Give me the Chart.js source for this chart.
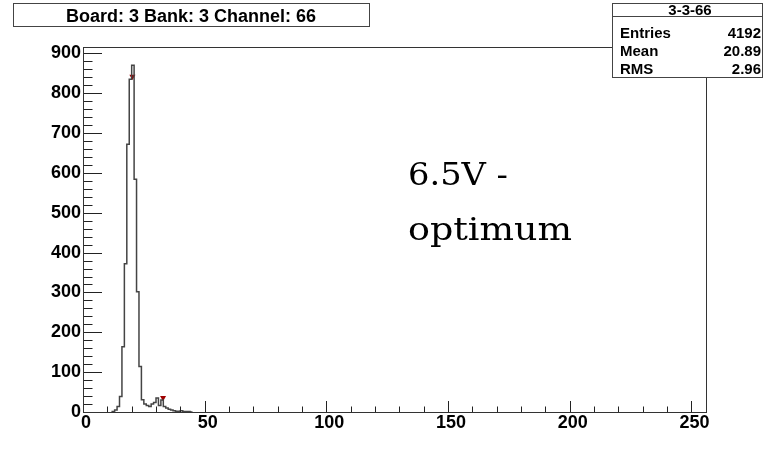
<!DOCTYPE html>
<html><head><meta charset="utf-8">
<script src="https://cdn.jsdelivr.net/npm/chart.js@4.4.0/dist/chart.umd.min.js"></script>
<style>html,body{margin:0;padding:0;background:#fff}#wrap{width:765px;height:456px}</style>
</head><body><div id="wrap"><canvas id="c" width="765" height="456"></canvas></div>
<script>
// ---- data ----
const binLow = [12,13,14,15,16,17,18,19,20,21,22,23,24,25,26,27,28,29,30,31,32,33,34,35,36,37,38,39,40,41,42,43,44,45];
const counts = [0,1,5,14,39,164,372,672,835,870,584,302,114,31,20,16,14,20,24,35,16,30,14,10,7,5,3,2,2,3,1,1,1,0];
const markerX = [20.3, 32.9];
const markerY = [842, 36];
const xTicks = [0,50,100,150,200,250];
const yTicks = [0,100,200,300,400,500,600,700,800,900];
const xRange = [0, 256];
const yRange = [0, 916];
const titleText = 'Board: 3 Bank: 3 Channel: 66';
const statsTitle = '3-3-66';
const statsLabels = ['Entries','Mean','RMS'];
const statsValues = ['4192','20.89','2.96'];
const noteLines = ['6.5V -','optimum'];

const xMinorStep = 10, xMajorStep = 50, yMinorStep = 20, yMajorStep = 100;

const rootPlugin = {
  id: 'rootStyle',
  afterDraw(chart) {
    const {ctx, chartArea: a, scales: {x, y}} = chart;
    ctx.save();
    ctx.strokeStyle = '#222';
    ctx.lineWidth = 1;
    ctx.beginPath();
    for (let v = xRange[0]; v <= xRange[1]; v += xMinorStep) {
      const px = Math.round(x.getPixelForValue(v)) + 0.5;
      const len = (v % xMajorStep === 0) ? 11 : 5.5;
      ctx.moveTo(px, a.bottom); ctx.lineTo(px, a.bottom - len);
    }
    for (let v = yRange[0]; v <= yRange[1]; v += yMinorStep) {
      const py = Math.round(y.getPixelForValue(v)) + 0.5;
      const len = (v % yMajorStep === 0) ? 19 : 9.5;
      ctx.moveTo(a.left, py); ctx.lineTo(a.left + len, py);
    }
    ctx.stroke();
    // frame
    ctx.strokeStyle = '#333';
    ctx.strokeRect(Math.round(a.left) + 0.5, Math.round(a.top) + 0.5,
                   Math.round(a.right - a.left), Math.round(a.bottom - a.top));
    // title box
    ctx.fillStyle = '#fff';
    ctx.fillRect(13, 3, 356, 23);
    ctx.strokeStyle = '#444';
    ctx.strokeRect(13.5, 3.5, 356, 23);
    ctx.fillStyle = '#000';
    ctx.font = 'bold 18px "Liberation Sans", Arial, sans-serif';
    ctx.textAlign = 'center';
    ctx.textBaseline = 'alphabetic';
    ctx.fillText(titleText, 191, 21.5);
    // stats box
    ctx.fillStyle = '#fff';
    ctx.fillRect(612, 3, 151, 74);
    ctx.strokeStyle = '#444';
    ctx.strokeRect(612.5, 3.5, 150, 74);
    ctx.beginPath(); ctx.moveTo(612, 16.5); ctx.lineTo(763, 16.5); ctx.stroke();
    ctx.fillStyle = '#000';
    ctx.font = 'bold 15px "Liberation Sans", Arial, sans-serif';
    ctx.textAlign = 'center';
    ctx.fillText(statsTitle, 690, 14.5);
    const rowsY = [37.5, 55.5, 73.5];
    for (let i = 0; i < statsLabels.length; i++) {
      ctx.textAlign = 'left';
      ctx.fillText(statsLabels[i], 620, rowsY[i]);
      ctx.textAlign = 'right';
      ctx.fillText(statsValues[i], 761, rowsY[i]);
    }
    // annotation
    ctx.font = '31px "DejaVu Serif", serif';
    ctx.textAlign = 'left';
    const targetW = [100, 164], baseY = [185, 240];
    for (let i = 0; i < noteLines.length; i++) {
      const w = ctx.measureText(noteLines[i]).width;
      ctx.save();
      ctx.translate(408, baseY[i]);
      ctx.scale(targetW[i] / w, 1);
      ctx.fillText(noteLines[i], 0, 0);
      ctx.restore();
    }
    ctx.restore();
  }
};

const tickFont = {family: '"Liberation Sans", Arial, sans-serif', weight: 'bold', size: 18};

new Chart(document.getElementById('c'), {
  type: 'line',
  data: {
    datasets: [
      {
        data: binLow.map((b, i) => ({x: b, y: counts[i]})),
        stepped: 'after',
        borderColor: '#444',
        borderWidth: 1.5,
        pointRadius: 0,
        fill: false
      },
      {
        type: 'scatter',
        data: markerX.map((v, i) => ({x: v, y: markerY[i]})),
        pointStyle: 'triangle',
        rotation: 180,
        pointRadius: 3.5,
        backgroundColor: '#a00000',
        borderColor: '#a00000',
        borderWidth: 0,
        showLine: false
      }
    ]
  },
  options: {
    responsive: false,
    animation: false,
    devicePixelRatio: 1,
    layout: {padding: {top: 47, right: 59, left: 0, bottom: 0}},
    plugins: {legend: {display: false}, tooltip: {enabled: false}, title: {display: false}},
    scales: {
      x: {
        type: 'linear', min: xRange[0], max: xRange[1],
        grid: {display: false, drawTicks: false},
        border: {display: false},
        afterBuildTicks: s => { s.ticks = xTicks.map(v => ({value: v})); },
        afterFit: s => { s.height = 44; },
        ticks: {font: tickFont, color: '#000', padding: 0, labelOffset: 3, maxRotation: 0, autoSkip: false,
                callback: v => String(v)}
      },
      y: {
        type: 'linear', min: yRange[0], max: yRange[1],
        grid: {display: false, drawTicks: false},
        border: {display: false},
        afterBuildTicks: s => { s.ticks = yTicks.map(v => ({value: v})); },
        afterFit: s => { s.width = 83; },
        ticks: {font: tickFont, color: '#000', padding: 2, autoSkip: false, callback: v => String(v)}
      }
    }
  },
  plugins: [rootPlugin]
});
</script></body></html>
